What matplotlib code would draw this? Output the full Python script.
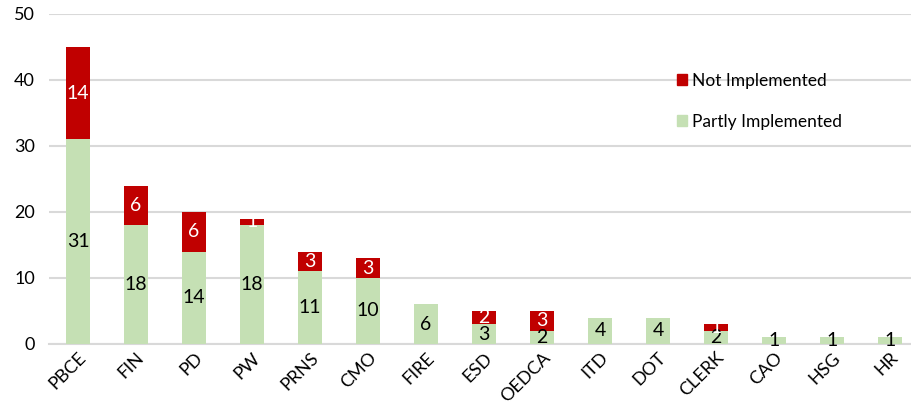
import numpy as np
import matplotlib.pyplot as plt
from matplotlib.patches import Patch

plt.rcParams['font.family'] = ['Lato', 'DejaVu Sans']

depts = ["PBCE", "FIN", "PD", "PW", "PRNS", "CMO", "FIRE", "ESD", "OEDCA",
         "ITD", "DOT", "CLERK", "CAO", "HSG", "HR"]
partly = [31, 18, 14, 18, 11, 10, 6, 3, 2, 4, 4, 2, 1, 1, 1]
not_impl = [14, 6, 6, 1, 3, 3, 0, 2, 3, 0, 0, 1, 0, 0, 0]

green = "#C5E0B4"
red = "#C00000"

fig = plt.figure(figsize=(9.11, 4.09), dpi=100)
ax = fig.add_axes([49 / 911, 65 / 409, 862 / 911, 330 / 409])

x = np.arange(len(depts))
ax.bar(x, partly, width=0.4, color=green, zorder=3)
ax.bar(x, not_impl, width=0.4, bottom=partly, color=red, zorder=3)

for i in range(len(depts)):
    if partly[i] > 0:
        ax.text(x[i], partly[i] / 2, str(partly[i]), ha="center", va="center",
                fontsize=14, color="black", zorder=4)
    if not_impl[i] > 0:
        ax.text(x[i], partly[i] + not_impl[i] / 2, str(not_impl[i]), ha="center",
                va="center", fontsize=14, color="white", zorder=4)

ax.set_xlim(-0.5, -0.5 + 862 / 58)
ax.set_ylim(0, 50)
ax.set_yticks(range(0, 51, 10))
ax.yaxis.grid(True, color="#d9d9d9", linewidth=1.5, zorder=0)
ax.set_axisbelow(True)
for s in ["top", "right", "left"]:
    ax.spines[s].set_visible(False)
ax.spines["bottom"].set_color("#d9d9d9")
ax.spines["bottom"].set_linewidth(1.5)
ax.tick_params(axis="both", length=0)
ax.tick_params(axis="y", pad=10, labelsize=13)
ax.tick_params(axis="x", pad=4, labelsize=13)
ax.set_xticks(x)
ax.set_xticklabels(depts, rotation=45, ha="right", rotation_mode="anchor")

handles = [Patch(color=red, label="Not Implemented"),
           Patch(color=green, label="Partly Implemented")]
ax.legend(handles=handles, loc="upper left", bbox_to_anchor=(0.71, 0.87),
          frameon=False, fontsize=12.5, handlelength=0.6, handleheight=0.6,
          handletextpad=0.3, labelspacing=1.45)

fig.savefig("out.png", dpi=100)
